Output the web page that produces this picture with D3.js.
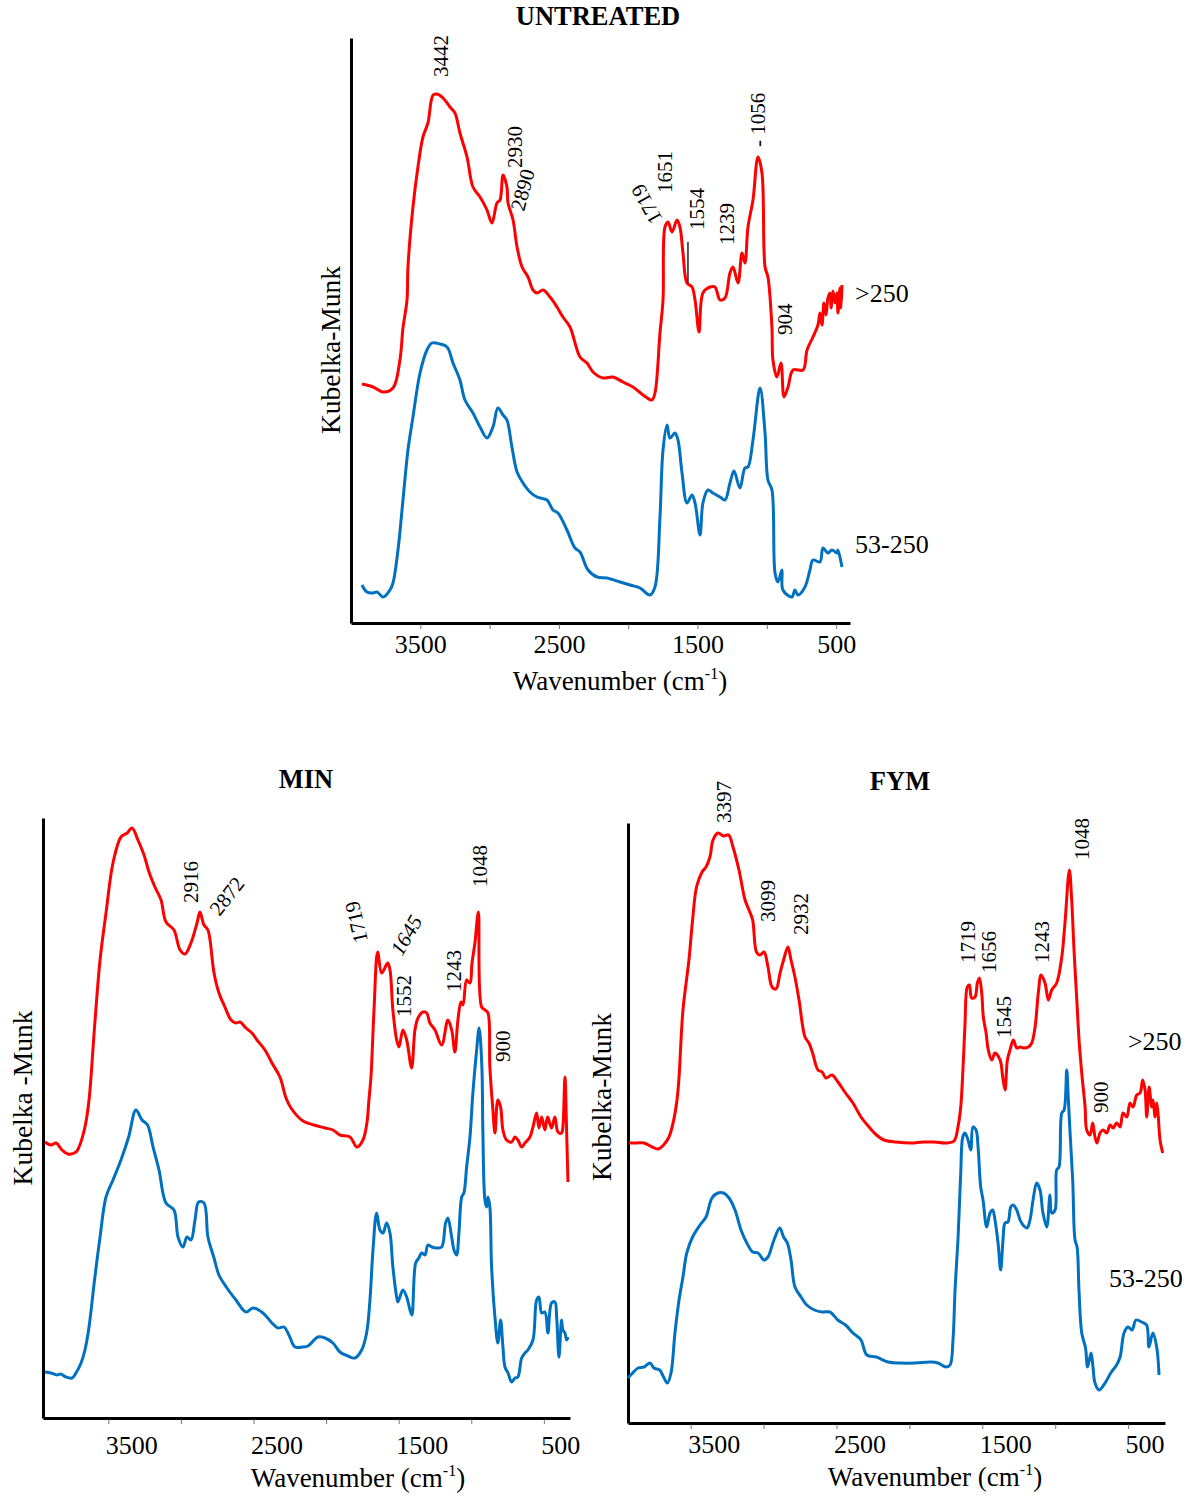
<!DOCTYPE html>
<html><head><meta charset="utf-8">
<script src="https://cdn.jsdelivr.net/npm/d3@7"></script>
<style>
body{margin:0;background:#fff}
svg{display:block}
text{font-family:"Liberation Serif","Times New Roman",serif;fill:#000}
</style>
</head><body>
<svg id="chart" width="1194" height="1497"></svg>
<script>
// ---------- DATA (wavenumber cm-1, Kubelka-Munk a.u.) ----------
const tickValues = [3500, 3000, 2500, 2000, 1500, 1000, 500];
const tickLabels = [3500, 2500, 1500, 500];

const untreatedCoarse = [[3921,2.39],[3841,2.36],[3769,2.31],[3697,2.35],[3647,2.63],[3625,2.95],[3596,3.23],[3589,3.56],[3553,4.16],[3517,4.56],[3481,4.86],[3445,5.00],[3408,5.28],[3380,5.29],[3336,5.25],[3286,5.16],[3250,5.10],[3214,4.90],[3163,4.66],[3120,4.36],[3069,4.26],[3019,4.13],[2983,4.00],[2947,4.20],[2925,4.23],[2903,4.48],[2875,4.36],[2867,4.20],[2831,4.03],[2802,3.76],[2766,3.56],[2723,3.46],[2687,3.33],[2658,3.30],[2615,3.33],[2564,3.26],[2514,3.16],[2471,3.06],[2420,2.96],[2348,2.66],[2297,2.60],[2254,2.51],[2182,2.45],[2110,2.46],[2038,2.41],[1966,2.36],[1893,2.28],[1829,2.23],[1807,2.30],[1771,2.90],[1749,3.23],[1735,3.96],[1713,4.01],[1684,3.91],[1648,4.03],[1627,3.96],[1605,3.70],[1576,3.40],[1540,3.36],[1518,3.23],[1489,2.91],[1461,3.30],[1410,3.36],[1374,3.36],[1338,3.23],[1302,3.25],[1266,3.50],[1244,3.56],[1208,3.40],[1179,3.70],[1158,3.60],[1136,3.96],[1100,4.23],[1064,4.66],[1035,4.50],[1013,3.56],[992,3.46],[963,2.95],[956,2.63],[927,2.46],[898,2.60],[876,2.26],[847,2.36],[811,2.53],[739,2.53],[710,2.73],[667,2.86],[631,2.98],[617,3.10],[602,2.98],[588,3.20],[573,3.08],[559,3.25],[544,3.30],[537,3.15],[523,3.32],[508,3.20],[494,3.30],[487,3.10],[472,3.35],[465,3.15],[458,3.38]];

const untreatedFine = [[3921,0.38],[3885,0.31],[3841,0.30],[3812,0.31],[3769,0.26],[3719,0.33],[3697,0.40],[3661,0.73],[3625,1.23],[3589,1.73],[3553,2.06],[3502,2.50],[3452,2.73],[3416,2.80],[3358,2.79],[3307,2.76],[3264,2.60],[3214,2.43],[3178,2.23],[3120,2.10],[3069,1.96],[3019,1.85],[2976,1.96],[2940,2.15],[2903,2.08],[2875,2.03],[2839,1.76],[2802,1.51],[2759,1.40],[2709,1.31],[2658,1.26],[2586,1.23],[2543,1.13],[2507,1.10],[2442,0.93],[2384,0.75],[2348,0.71],[2290,0.53],[2225,0.46],[2153,0.45],[2059,0.41],[1987,0.38],[1915,0.35],[1843,0.28],[1807,0.36],[1771,1.06],[1749,1.73],[1720,1.98],[1699,1.85],[1663,1.90],[1641,1.83],[1612,1.50],[1576,1.20],[1540,1.28],[1518,1.20],[1482,0.88],[1461,1.20],[1425,1.33],[1389,1.30],[1338,1.26],[1302,1.23],[1266,1.40],[1237,1.52],[1194,1.35],[1158,1.55],[1136,1.56],[1100,1.83],[1049,2.35],[1013,1.90],[992,1.43],[963,1.33],[941,0.50],[920,0.41],[891,0.53],[884,0.33],[819,0.26],[797,0.33],[775,0.28],[725,0.36],[689,0.53],[667,0.63],[617,0.61],[595,0.75],[559,0.70],[530,0.73],[494,0.70],[487,0.73],[458,0.56]];

const minCoarse = [[3936,2.76],[3895,2.73],[3860,2.75],[3819,2.68],[3778,2.64],[3723,2.66],[3702,2.71],[3661,2.91],[3633,3.18],[3595,3.91],[3557,4.58],[3516,5.05],[3468,5.55],[3413,5.81],[3371,5.85],[3337,5.90],[3296,5.78],[3254,5.63],[3220,5.46],[3179,5.31],[3137,5.18],[3103,4.96],[3048,4.88],[3006,4.68],[2972,4.64],[2931,4.75],[2889,4.95],[2869,5.06],[2841,4.93],[2814,4.88],[2772,4.45],[2738,4.25],[2697,4.11],[2655,3.98],[2621,3.95],[2593,3.96],[2552,3.90],[2511,3.85],[2476,3.78],[2421,3.68],[2373,3.55],[2318,3.41],[2276,3.20],[2242,3.10],[2159,2.97],[2084,2.93],[2008,2.90],[1953,2.88],[1905,2.83],[1836,2.81],[1787,2.71],[1746,2.78],[1719,2.95],[1705,3.18],[1691,3.41],[1670,4.08],[1645,4.66],[1617,4.45],[1576,4.55],[1560,4.48],[1540,4.08],[1514,3.78],[1498,3.71],[1471,3.88],[1445,3.78],[1411,3.50],[1388,3.88],[1367,4.00],[1333,4.06],[1307,4.05],[1285,3.95],[1250,3.88],[1204,3.73],[1161,3.98],[1135,3.88],[1113,3.66],[1092,3.98],[1071,4.16],[1057,4.13],[1032,4.38],[1009,4.35],[995,4.55],[975,4.75],[951,5.06],[929,4.11],[905,4.08],[885,4.05],[872,3.51],[851,3.08],[837,2.85],[817,3.18],[798,3.11],[782,2.88],[757,2.78],[722,2.76],[699,2.81],[679,2.78],[653,2.71],[630,2.75],[596,2.81],[575,2.91],[550,3.05],[534,2.90],[515,3.01],[493,2.88],[474,3.01],[447,2.90],[424,3.01],[403,2.86],[378,2.85],[369,2.91],[355,3.41],[343,2.85],[334,2.36]];

const minFine = [[3936,0.46],[3895,0.45],[3854,0.43],[3829,0.44],[3792,0.41],[3750,0.40],[3723,0.45],[3688,0.55],[3661,0.68],[3633,0.91],[3595,1.38],[3557,1.81],[3516,2.21],[3468,2.38],[3413,2.58],[3360,2.81],[3310,3.08],[3268,2.98],[3230,2.93],[3192,2.71],[3151,2.48],[3103,2.15],[3048,2.08],[3020,1.81],[2986,1.71],[2958,1.81],[2931,1.78],[2903,1.98],[2878,2.16],[2841,2.15],[2814,1.81],[2772,1.60],[2738,1.43],[2683,1.30],[2621,1.18],[2552,1.06],[2504,1.10],[2435,1.05],[2373,0.95],[2332,0.90],[2290,0.91],[2256,0.83],[2214,0.71],[2162,0.71],[2125,0.72],[2056,0.81],[2008,0.80],[1953,0.75],[1905,0.66],[1850,0.62],[1801,0.60],[1755,0.68],[1721,0.85],[1698,1.18],[1677,1.68],[1652,2.05],[1629,1.88],[1608,1.85],[1583,1.95],[1560,1.85],[1540,1.51],[1514,1.21],[1505,1.16],[1471,1.28],[1445,1.21],[1422,1.08],[1409,1.03],[1383,1.55],[1361,1.60],[1342,1.65],[1319,1.63],[1299,1.73],[1271,1.71],[1239,1.70],[1204,1.71],[1177,1.95],[1161,2.00],[1135,1.81],[1119,1.68],[1101,1.63],[1085,1.85],[1066,2.21],[1051,2.25],[1032,2.51],[1009,2.81],[989,3.25],[963,3.68],[946,3.90],[927,3.51],[920,2.85],[906,2.18],[894,2.11],[885,2.21],[872,2.11],[860,1.51],[837,1.01],[817,0.75],[798,0.98],[782,0.71],[768,0.51],[747,0.45],[722,0.36],[699,0.40],[679,0.41],[653,0.60],[630,0.65],[610,0.68],[575,0.78],[550,1.18],[534,1.21],[515,1.05],[493,1.06],[472,0.85],[447,1.15],[424,1.16],[412,1.01],[396,0.61],[378,0.98],[369,0.88],[355,0.85],[343,0.78],[334,0.81]];

const fymCoarse = [[3925,2.80],[3872,2.80],[3820,2.80],[3765,2.76],[3724,2.74],[3686,2.78],[3649,2.86],[3621,3.00],[3594,3.23],[3580,3.46],[3553,4.13],[3512,4.63],[3487,5.03],[3460,5.36],[3422,5.51],[3395,5.56],[3368,5.66],[3347,5.83],[3313,5.90],[3274,5.87],[3240,5.88],[3210,5.76],[3169,5.53],[3127,5.23],[3100,5.13],[3075,5.03],[3049,4.71],[3025,4.68],[2997,4.71],[2970,4.56],[2942,4.36],[2915,4.34],[2887,4.50],[2863,4.63],[2833,4.76],[2812,4.63],[2785,4.46],[2757,4.23],[2716,3.86],[2689,3.80],[2664,3.70],[2627,3.53],[2599,3.51],[2572,3.45],[2531,3.48],[2490,3.41],[2438,3.30],[2387,3.20],[2332,3.06],[2277,2.96],[2226,2.88],[2174,2.83],[2092,2.81],[1989,2.80],[1907,2.81],[1827,2.81],[1749,2.80],[1694,2.82],[1667,2.96],[1648,3.16],[1632,3.56],[1619,3.98],[1603,4.36],[1589,4.38],[1573,4.25],[1550,4.26],[1534,4.40],[1520,4.45],[1504,4.30],[1493,4.06],[1474,3.90],[1459,3.73],[1435,3.63],[1413,3.70],[1378,3.63],[1360,3.46],[1344,3.33],[1328,3.63],[1310,3.73],[1287,3.83],[1264,3.75],[1241,3.76],[1219,3.75],[1184,3.76],[1161,3.80],[1138,3.96],[1116,4.30],[1097,4.48],[1070,4.40],[1047,4.23],[1024,4.33],[990,4.40],[955,4.66],[933,5.00],[903,5.53],[887,5.23],[871,4.73],[852,4.23],[835,3.80],[818,3.50],[795,3.16],[784,2.93],[761,2.88],[743,3.00],[727,2.86],[713,2.80],[693,2.90],[672,2.93],[647,2.90],[624,2.98],[603,2.95],[578,3.00],[555,2.96],[535,3.10],[509,3.06],[487,3.20],[466,3.16],[441,3.28],[418,3.30],[400,3.43],[384,3.33],[372,3.06],[356,3.36],[338,3.16],[329,3.23],[315,3.06],[304,3.20],[295,3.10],[281,2.83],[263,2.70]];

const fymFine = [[3930,0.45],[3898,0.50],[3861,0.55],[3820,0.56],[3779,0.60],[3752,0.55],[3713,0.53],[3686,0.46],[3660,0.40],[3635,0.50],[3608,0.90],[3580,1.23],[3553,1.46],[3527,1.70],[3487,1.86],[3436,1.98],[3395,2.06],[3354,2.25],[3314,2.30],[3274,2.30],[3237,2.25],[3196,2.13],[3155,1.93],[3115,1.80],[3075,1.71],[3038,1.70],[2997,1.63],[2970,1.66],[2929,1.83],[2889,1.95],[2863,1.86],[2837,1.80],[2812,1.63],[2785,1.36],[2743,1.26],[2704,1.18],[2651,1.13],[2599,1.11],[2545,1.11],[2491,1.03],[2438,0.98],[2387,0.90],[2332,0.83],[2292,0.68],[2226,0.66],[2147,0.61],[2066,0.60],[1961,0.60],[1854,0.61],[1804,0.60],[1749,0.56],[1721,0.58],[1701,0.83],[1687,1.33],[1667,1.83],[1648,2.50],[1634,2.86],[1619,2.90],[1598,2.83],[1579,2.73],[1564,2.96],[1543,2.93],[1529,2.76],[1511,2.36],[1495,2.23],[1470,1.96],[1447,2.10],[1429,2.13],[1413,2.03],[1392,1.80],[1374,1.53],[1358,1.83],[1344,2.00],[1324,2.01],[1305,2.16],[1289,2.18],[1264,2.13],[1241,2.03],[1221,1.98],[1193,1.95],[1173,2.03],[1152,2.23],[1127,2.40],[1104,2.33],[1084,2.10],[1058,1.96],[1036,2.28],[1024,2.10],[1001,2.13],[990,2.53],[974,2.56],[955,3.10],[939,3.13],[921,3.53],[912,3.30],[898,2.90],[880,2.43],[864,1.83],[850,1.76],[837,1.33],[818,0.90],[792,0.75],[778,0.56],[754,0.70],[741,0.56],[727,0.40],[699,0.33],[658,0.40],[619,0.50],[579,0.58],[555,0.66],[528,0.90],[501,0.96],[473,0.93],[446,1.03],[407,1.01],[373,0.98],[357,0.76],[330,0.90],[303,0.75],[288,0.48]];

// peak annotations: [text, wavenumber, K-M, rotation, italic]
const peaksUntreated = [["3442",3300,5.46,-90],["2930",2766,4.55,-90],["2890",2752,4.11,-75],["1719",1749,4.04,-119],["1651",1684,4.30,-90],["1554",1453,3.93,-90],["1239",1237,3.78,-90],["- 1056",1013,4.76,-90],["904",819,2.88,-90]];
const peaksMin = [["2916",2883,5.15,-90],["2872",2734,5.01,-52],["1719",1712,4.77,-103],["1645",1478,4.61,-60,true],["1552",1416,4.01,-90],["1243",1071,4.26,-90],["1048",895,5.31,-90],["900",734,3.56,-90]];
const peaksFym = [["3397",3226,6.00,-90],["3099",2922,5.01,-90],["2932",2695,4.88,-90],["1719",1553,4.60,-90],["1656",1406,4.50,-90],["1545",1306,3.85,-90],["1243",1045,4.60,-90],["1048",770,5.63,-90],["900",638,3.10,-90]];

const seriesUntreated = [[">250",364,3.21],["53-250",364,0.70]];
const seriesFym = [[">250",501,3.73],["53-250",631,1.36]];

const RED = "#ff0000", BLUE = "#0070c0";

const panels = [
  {title:"UNTREATED", tx:598, ty:25, x0:351, x1:850, wn0:4000, wn1:400, yb:623, yt:38, kmMax:5.85,
   red:untreatedCoarse, blue:untreatedFine, peaks:peaksUntreated, series:seriesUntreated,
   ylab:"Kubelka-Munk", ylx:340, yly:350, anchor:"middle", pad:8, xlx:620, xly:690,
   marker:[1569,3.81,3.40]},
  {title:"MIN", tx:306, ty:788, x0:43, x1:570, wn0:3950, wn1:320, yb:1418, yt:818, kmMax:6.0,
   red:minCoarse, blue:minFine, peaks:peaksMin, series:[],
   ylab:"Kubelka -Munk", ylx:32, yly:1098, anchor:"start", pad:14, xlx:358, xly:1487},
  {title:"FYM", tx:900, ty:790, x0:628, x1:1165, wn0:3930, wn1:247, yb:1423, yt:823, kmMax:6.0,
   red:fymCoarse, blue:fymFine, peaks:peaksFym, series:seriesFym,
   ylab:"Kubelka-Munk", ylx:611, yly:1097, anchor:"start", pad:8, xlx:935, xly:1486}
];

const svg = d3.select("#chart");

panels.forEach(p => {
  const g = svg.append("g");
  const x = d3.scaleLinear().domain([p.wn0, p.wn1]).range([p.x0, p.x1]);
  const y = d3.scaleLinear().domain([0, p.kmMax]).range([p.yb, p.yt]);

  // title
  g.append("text").attr("x", p.tx).attr("y", p.ty).attr("text-anchor","middle")
    .attr("font-size", 26.5).attr("font-weight","bold").text(p.title);

  // x axis
  const ax = d3.axisBottom(x).tickValues(tickValues).tickSize(4).tickSizeOuter(0)
    .tickPadding(p.pad).tickFormat(d => tickLabels.includes(d) ? d : "");
  const axg = g.append("g").attr("transform", `translate(0,${p.yb})`).call(ax);
  axg.select(".domain").attr("stroke","#000").attr("stroke-width",3);
  axg.selectAll(".tick line").attr("stroke","#777").attr("stroke-width",1).attr("y1",1.5).attr("y2",6);
  axg.selectAll(".tick text").attr("font-size",26).attr("fill","#000")
    .attr("font-family",'"Liberation Serif","Times New Roman",serif')
    .attr("text-anchor", p.anchor).attr("x", p.anchor === "start" ? -3 : 0);

  // y axis
  const ay = d3.axisLeft(y).tickValues([]).tickSizeOuter(0);
  const ayg = g.append("g").attr("transform", `translate(${p.x0},0)`).call(ay);
  ayg.select(".domain").attr("stroke","#000").attr("stroke-width",3);

  // axis titles
  g.append("text").attr("transform", `translate(${p.ylx},${p.yly}) rotate(-90)`)
    .attr("text-anchor","middle").attr("font-size",27.5).text(p.ylab);
  const xl = g.append("text").attr("x", p.xlx).attr("y", p.xly).attr("text-anchor","middle").attr("font-size",27);
  xl.append("tspan").text("Wavenumber (cm");
  xl.append("tspan").attr("font-size",16).attr("dy",-11).text("-1");
  xl.append("tspan").attr("dy",11).text(")");

  // curves
  const line = d3.line().x(d => x(d[0])).y(d => y(d[1])).curve(d3.curveCatmullRom.alpha(0.5));
  g.append("path").datum(p.blue).attr("d", line).attr("fill","none").attr("stroke",BLUE)
    .attr("stroke-width",3).attr("stroke-linejoin","round");
  g.append("path").datum(p.red).attr("d", line).attr("fill","none").attr("stroke",RED)
    .attr("stroke-width",3).attr("stroke-linejoin","round");

  if (p.marker) {
    g.append("line").attr("x1", x(p.marker[0])).attr("x2", x(p.marker[0]))
      .attr("y1", y(p.marker[1])).attr("y2", y(p.marker[2]))
      .attr("stroke","#222").attr("stroke-width",1.5);
  }

  // peak labels
  p.peaks.forEach(k => {
    g.append("text").attr("transform", `translate(${x(k[1])},${y(k[2])}) rotate(${k[3]})`)
      .attr("font-size",21).attr("fill","#111").attr("font-style", k[4] ? "italic" : "normal")
      .text(k[0]);
  });

  // series labels
  p.series.forEach(s => {
    g.append("text").attr("x", x(s[1])).attr("y", y(s[2])).attr("font-size",26).text(s[0]);
  });
});
</script>
</body></html>
